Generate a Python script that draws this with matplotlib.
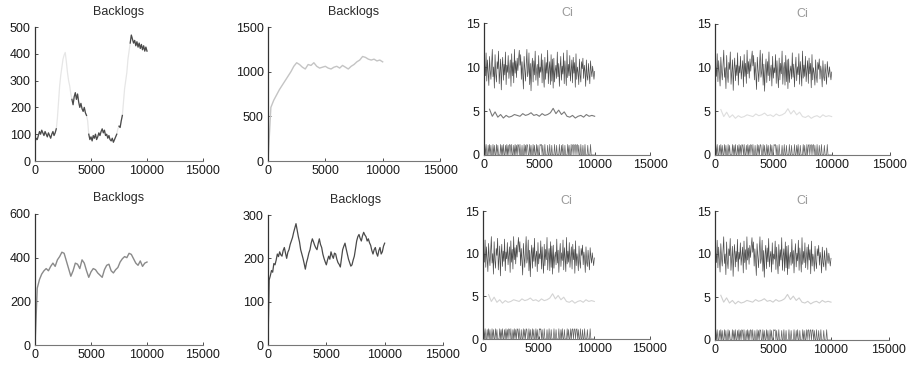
import numpy as np
import matplotlib
matplotlib.use('Agg')
import matplotlib.pyplot as plt

plt.rcParams['font.family'] = ['Liberation Sans', 'DejaVu Sans']
plt.rcParams['font.size'] = 9

# backlog traces, one per run
t100 = np.arange(0, 10001, 100)
t200 = np.arange(0, 10001, 200)
t250 = np.arange(0, 10001, 250)

backlog_1 = [
    70, 85, 80, 95, 110, 100, 115, 105, 95, 110,
    100, 90, 105, 95, 85, 100, 110, 95, 105, 120,
    160, 220, 280, 320, 350, 380, 395, 405, 370, 330,
    300, 280, 250, 230, 210, 240, 255, 230, 250, 220,
    200, 215, 195, 185, 200, 180, 170, 150, 100, 80,
    90, 75, 95, 85, 100, 80, 90, 105, 95, 110,
    120, 105, 115, 95, 100, 85, 95, 80, 75, 85,
    70, 80, 90, 100, 120, 130, 125, 150, 170, 220,
    270, 300, 330, 380, 410, 440, 470, 455, 440, 450,
    430, 445, 425, 440, 420, 435, 415, 430, 410, 425,
    410]
# stretches of the first trace that printed dark
backlog_1_dark = [(0, 1900), (2650, 2750), (3300, 4600), (4800, 7300),
                  (7500, 7800), (8500, 10000)]

backlog_2 = [0, 600, 680, 740, 800, 850, 900, 950, 1000, 1060,
             1100, 1080, 1050, 1030, 1080, 1070, 1100, 1060, 1040, 1050,
             1060, 1040, 1030, 1050, 1060, 1040, 1070, 1050, 1030, 1060,
             1080, 1110, 1130, 1170, 1160, 1140, 1130, 1140, 1120, 1130,
             1110]

backlog_3 = [0, 260, 300, 325, 340, 350, 340, 360, 375, 360,
             390, 405, 425, 420, 385, 350, 315, 340, 375, 370,
             350, 390, 375, 340, 310, 335, 350, 345, 330, 320,
             310, 345, 365, 370, 340, 330, 345, 355, 380, 395,
             405, 400, 420, 415, 395, 375, 365, 385, 360, 375,
             380]

backlog_4 = [
    0, 150, 160, 172, 168, 188, 185, 196, 210, 204,
    215, 208, 205, 218, 225, 212, 200, 214, 220, 232,
    240, 248, 260, 270, 280, 265, 250, 238, 220, 210,
    200, 188, 175, 190, 200, 212, 220, 235, 245, 238,
    230, 224, 220, 234, 245, 232, 225, 210, 200, 192,
    185, 196, 205, 198, 215, 206, 200, 212, 210, 198,
    190, 186, 180, 200, 220, 228, 235, 222, 210, 198,
    190, 182, 185, 196, 205, 222, 240, 250, 255, 246,
    240, 252, 260, 254, 250, 240, 245, 236, 230, 218,
    210, 220, 225, 212, 205, 218, 225, 210, 215, 228,
    235]

# Ci traces
t_ci = np.linspace(0, 10000, 161)
ci_high = [
    8.2, 10.1, 9.0, 11.6, 8.4, 10.8, 9.3, 7.9, 11.2, 9.6, 8.6, 10.4, 12.0, 8.9, 10.0, 7.6,
    11.4, 9.2, 8.3, 10.6, 9.8, 11.8, 8.1, 9.5, 10.9, 7.4, 9.9, 11.1, 8.5, 10.3, 9.1, 11.7,
    8.0, 10.2, 9.4, 11.3, 8.7, 9.7, 10.8, 7.8, 11.5, 9.0, 10.5, 8.2, 12.0, 9.3, 10.7, 8.8,
    11.0, 9.6, 10.9, 11.9, 10.2, 11.4, 8.6, 10.6, 9.2, 7.5, 11.2, 9.8, 8.4, 10.1, 12.0, 8.9,
    9.5, 11.6, 8.0, 10.4, 7.3, 9.9, 11.0, 8.3, 10.7, 9.1, 11.8, 8.5, 9.7, 10.3, 7.9, 11.3,
    8.8, 10.0, 9.4, 11.5, 8.2, 10.8, 9.0, 7.7, 11.1, 8.6, 10.5, 9.3, 11.9, 8.1, 9.8, 10.6,
    8.0, 11.4, 8.4, 10.9, 7.6, 11.0, 8.3, 9.6, 10.2, 8.7, 11.7, 8.9, 10.4, 7.8, 9.9, 11.2,
    8.5, 10.1, 9.2, 11.6, 8.1, 10.7, 9.5, 7.9, 11.9, 8.8, 10.3, 9.0, 11.3, 8.4, 9.7, 10.8,
    8.2, 11.1, 9.3, 10.5, 7.7, 11.5, 8.6, 10.0, 9.4, 8.0, 10.9, 9.1, 8.3, 10.6, 9.8, 11.0,
    8.7, 10.2, 9.5, 7.8, 10.8, 9.0, 8.5, 10.4, 9.2, 8.1, 10.7, 9.6, 8.9, 10.1, 9.3, 8.6,
    9.5]
ci_low = [
    0, 1.1, 0, 1.2, 0, 0, 1.1, 0, 1.2, 0, 1.1, 0, 0, 1.2, 0, 1.1,
    0, 0, 1.2, 0, 1.1, 0, 0, 0, 1.2, 0, 1.1, 0, 1.2, 0, 0, 1.1,
    0, 1.2, 0, 1.1, 0, 1.2, 1.1, 0, 1.2, 0, 0, 1.1, 0, 1.2, 0, 1.1,
    0, 1.2, 1.1, 0, 1.2, 0, 0, 1.1, 0, 0, 1.2, 0, 1.1, 0, 1.2, 1.1,
    0, 0, 1.2, 0, 1.1, 0, 0, 1.2, 0, 1.1, 0, 0, 1.2, 0, 1.1, 0,
    0, 1.2, 1.1, 1.2, 0, 1.1, 0, 0, 1.2, 0, 0, 0, 1.1, 0, 0, 1.2,
    0, 0, 1.1, 0, 0, 0, 1.2, 0, 0, 1.1, 0, 0, 0, 1.2, 0, 0,
    1.1, 0, 1.2, 0, 0, 1.1, 0, 0, 0, 1.2, 0, 1.1, 0, 0, 1.2, 0,
    1.1, 1.2, 0, 1.1, 1.2, 0, 1.1, 1.2, 0, 1.1, 0, 0, 1.2, 0, 0, 1.1,
    0, 0, 1.2, 0, 0, 0, 1.1, 0, 0, 0, 1.2, 0, 0, 0, 0, 0,
    0]
t_mid = np.arange(500, 10001, 250)
ci_mid = [5.2, 4.4, 4.9, 4.3, 4.6, 4.2, 4.5, 4.3, 4.4, 4.6,
          4.5, 4.4, 4.7, 4.5, 4.6, 4.8, 4.5, 4.6, 4.4, 4.7,
          4.5, 4.6, 4.8, 5.3, 4.7, 5.1, 4.6, 4.9, 4.4, 4.3,
          4.5, 4.2, 4.4, 4.5, 4.3, 4.6, 4.4, 4.5, 4.4]

xticks = [0, 5000, 10000, 15000]

fig = plt.figure(figsize=(9.12, 3.69), dpi=100)
W, H = 912.0, 369.0


def make_axes(l, r, top, bottom):
    return fig.add_axes([l / W, 1 - bottom / H, (r - l) / W, (bottom - top) / H])


def style(ax, ymax, yticks, title, title_color, title_pad=9):
    ax.set_xlim(0, 15000)
    ax.set_ylim(0, ymax)
    ax.set_xticks(xticks)
    ax.set_yticks(yticks)
    for s in ['top', 'right']:
        ax.spines[s].set_visible(False)
    ax.spines['left'].set_color('#333333')
    ax.spines['bottom'].set_color('#777777')
    ax.spines['left'].set_linewidth(0.9)
    ax.spines['bottom'].set_linewidth(0.8)
    ax.tick_params(direction='in', length=2, width=0.6, colors='#333333',
                   labelcolor='#1a1a1a', labelsize=9, pad=3)
    ax.set_title(title, fontsize=9, color=title_color, pad=title_pad)


# Backlogs, top left
ax = make_axes(35, 203, 27, 161)
b1 = np.array(backlog_1, dtype=float)
ax.plot(t100, b1, color='#e6e6e6', lw=0.9)
dark = np.full_like(b1, np.nan)
for a, b in backlog_1_dark:
    m = (t100 >= a) & (t100 <= b)
    dark[m] = b1[m]
ax.plot(t100, dark, color='#4a4a4a', lw=0.9)
style(ax, 500, [0, 100, 200, 300, 400, 500], 'Backlogs', '#2a2a2a')

ax = make_axes(268, 440, 27, 161)
ax.plot(t250, backlog_2, color='#c4c4c4', lw=1.0)
style(ax, 1500, [0, 500, 1000, 1500], 'Backlogs', '#2a2a2a')

ax = make_axes(35, 203, 214, 345)
ax.plot(t200, backlog_3, color='#8a8a8a', lw=1.0)
style(ax, 600, [0, 200, 400, 600], 'Backlogs', '#2a2a2a')

ax = make_axes(268, 443, 215, 345)
ax.plot(t100, backlog_4, color='#4a4a4a', lw=0.9)
style(ax, 300, [0, 100, 200, 300], 'Backlogs', '#2a2a2a')

# Ci panels
ci_boxes = [(484, 650, 23, 155), (715, 890, 24, 155),
            (483, 650, 211, 339), (715, 889, 211, 340)]
mid_colors = ['#7a7a7a', '#dedede', '#d4d4d4', '#cfcfcf']
for box, mc in zip(ci_boxes, mid_colors):
    ax = make_axes(*box)
    ax.plot(t_ci, ci_high, color='#4d4d4d', lw=0.5)
    ax.plot(t_mid, ci_mid, color=mc, lw=0.8)
    ax.plot(t_ci, ci_low, color='#666666', lw=0.5)
    style(ax, 15, [0, 5, 10, 15], 'Ci', '#9a9a9a', title_pad=5)

fig.savefig('out.png', dpi=100)
